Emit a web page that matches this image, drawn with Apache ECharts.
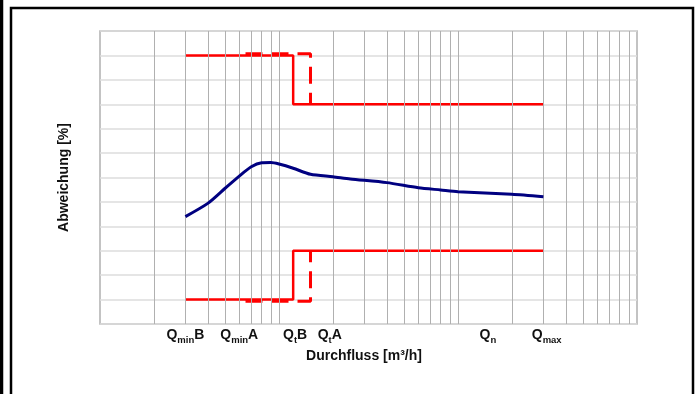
<!DOCTYPE html>
<html>
<head>
<meta charset="utf-8">
<script src="https://cdn.jsdelivr.net/npm/echarts@6/dist/echarts.min.js"></script>
<style>
  html, body { margin: 0; padding: 0; background: #fff; }
  #chart { width: 696px; height: 394px; }
</style>
</head>
<body>
<div id="chart"></div>
<script>
  // Durchfluss-Werte (log. Achse) und Abweichung in %
  const flowValues = [3, 4, 5, 6, 7, 8, 9, 10, 12, 15, 20, 25, 40, 60, 80, 100, 200, 300];
  const deviation = [-1.6, -1.06, -0.44, 0.06, 0.44, 0.6, 0.61, 0.55, 0.38, 0.13, 0.03, -0.06, -0.21, -0.42, -0.51, -0.58, -0.69, -0.79];

  // Fehlergrenzen Klasse B (durchgezogen) und Klasse A (gestrichelt)
  const limitBUpperX = [3, 12, 12, 300];
  const limitBUpperY = [5, 5, 3, 3];
  const limitBLowerY = [-5, -5, -3, -3];
  const limitAUpperX = [6.5, 15, 15];
  const limitAUpperY = [5.07, 5.07, 3];
  const limitALowerY = [-5.07, -5.07, -3];

  // Beschriftung der Durchfluss-Punkte
  const qLabels = ['{q|Q}{s|min}{q|B}', '{q|Q}{s|min}{q|A}', '{q|Q}{s|t}{q|B}', '{q|Q}{s|t}{q|A}', '{q|Q}{s|n}', '{q|Q}{s|max}'];
  const qLabelPos = [3, 6, 12.3, 19.2, 147, 313];

  // senkrechte Gitterlinien (1-2-3...9 pro Dekade)
  const gridX = [2, 3, 4, 5, 6, 7, 8, 9, 10, 20, 30, 40, 50, 60, 70, 80, 90, 100, 200, 300, 400, 500, 600, 700, 800, 900];

  const yMin = -6;
  const yMax = 6;

  function pairs(xs, ys) {
    const out = [];
    for (let i = 0; i < xs.length; i++) {
      out.push([xs[i], ys[i]]);
    }
    return out;
  }

  const font = '"Liberation Sans", Arial, sans-serif';
  const textColor = '#111';
  const myEcharts = echarts.init(document.getElementById('chart'));
  const options = {
    animation: false,
    backgroundColor: '#fff',
    textStyle: { fontFamily: font },
    grid: {
      left: 100,
      right: 59,
      top: 31,
      bottom: 70,
      show: true,
      borderColor: '#b0b0b0',
      borderWidth: 1.5
    },
    xAxis: {
      type: 'log',
      logBase: 10,
      min: 1,
      max: 1000,
      name: 'Durchfluss [m³/h]',
      nameLocation: 'middle',
      nameGap: 25,
      nameTextStyle: {
        color: textColor,
        fontWeight: 'bold',
        fontSize: 14,
        fontFamily: font,
        padding: [0, 9, 0, 0]
      },
      axisLine: { show: false },
      axisTick: { show: false },
      axisLabel: { show: false },
      splitLine: { show: false }
    },
    yAxis: {
      type: 'value',
      min: yMin,
      max: yMax,
      interval: 1,
      name: 'Abweichung [%]',
      nameLocation: 'middle',
      nameGap: 29,
      nameTextStyle: {
        color: textColor,
        fontWeight: 'bold',
        fontSize: 14,
        fontFamily: font
      },
      axisLine: { show: false },
      axisTick: { show: false },
      axisLabel: { show: false },
      splitLine: {
        show: true,
        lineStyle: { color: '#dcdcdc', width: 1.5 }
      }
    },
    series: [
      {
        // nur fuer die senkrechten Gitterlinien
        type: 'line',
        data: [],
        silent: true,
        z: 1,
        markLine: {
          silent: true,
          symbol: 'none',
          label: { show: false },
          lineStyle: { color: '#b0b0b0', width: 1, type: 'solid' },
          data: gridX.map(v => ({ xAxis: v }))
        }
      },
      {
        type: 'line',
        data: pairs(limitAUpperX, limitAUpperY),
        symbol: 'none',
        z: 3,
        lineStyle: { color: '#ff0000', width: 3, type: [17, 9] }
      },
      {
        type: 'line',
        data: pairs(limitAUpperX, limitALowerY),
        symbol: 'none',
        z: 3,
        lineStyle: { color: '#ff0000', width: 3, type: [17, 9] }
      },
      {
        type: 'line',
        data: pairs(limitBUpperX, limitBUpperY),
        symbol: 'none',
        z: 4,
        lineStyle: { color: '#ff0000', width: 2.5 }
      },
      {
        type: 'line',
        data: pairs(limitBUpperX, limitBLowerY),
        symbol: 'none',
        z: 4,
        lineStyle: { color: '#ff0000', width: 2.5 }
      },
      {
        type: 'line',
        data: pairs(flowValues, deviation),
        symbol: 'none',
        smooth: 0.25,
        z: 5,
        lineStyle: { color: '#000080', width: 3 }
      },
      {
        // Q-Beschriftungen unter der Achse
        type: 'scatter',
        symbolSize: 0,
        silent: true,
        clip: false,
        itemStyle: { color: textColor, opacity: 1 },
        data: qLabelPos.map((v, i) => ({ value: [v, yMin], labelText: qLabels[i] })),
        label: {
          show: true,
          position: 'bottom',
          distance: 5,
          color: textColor,
          opacity: 1,
          textBorderWidth: 0,
          formatter: p => p.data.labelText,
          rich: {
            q: { fontSize: 14, fontWeight: 'bold', color: textColor, lineHeight: 16, fontFamily: font, verticalAlign: 'bottom', padding: [0, 0, 3, 0] },
            s: { fontSize: 9.5, fontWeight: 'bold', color: textColor, lineHeight: 8, fontFamily: font, verticalAlign: 'bottom' }
          }
        }
      }
    ],
    graphic: [
      {
        type: 'rect',
        silent: true,
        shape: { x: 1, y: -10, width: 1, height: 420 },
        style: { fill: 'none', stroke: '#000', lineWidth: 2.5 }
      },
      {
        type: 'rect',
        silent: true,
        shape: { x: 11, y: 8, width: 682, height: 400 },
        style: { fill: 'none', stroke: '#000', lineWidth: 2.5 }
      }
    ]
  };
  myEcharts.setOption(options, true);
</script>
</body>
</html>
